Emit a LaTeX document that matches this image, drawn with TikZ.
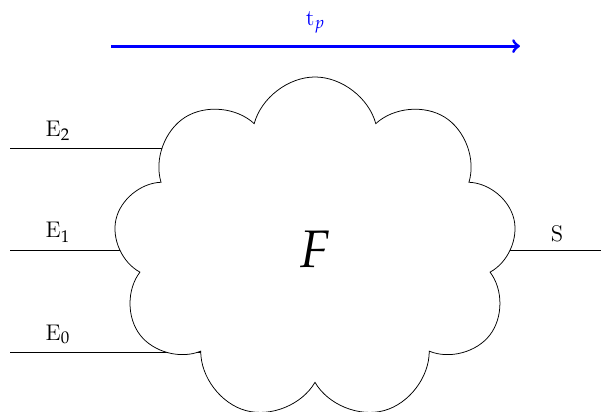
\documentclass[12pt,tikz,border=0pt]{standalone}
\usepackage{mathpazo}
\usetikzlibrary{shapes.symbols, backgrounds, calc}

\begin{document}
\begin{tikzpicture}
  \useasboundingbox (0,0) rectangle (11.2,7.66);

  % Process (cloud)
  \node[cloud, cloud puffs=9, draw, fill=white, minimum width=7.53cm, minimum height=6.41cm, font=\fontsize{28}{34}\selectfont] (F) at (5.87,3.02) {$F$};

  % Inputs and output
  \coordinate (E2) at (0.19,4.90);
  \coordinate (E1) at (0.19,3.00);
  \coordinate (E0) at (0.19,1.10);
  \coordinate (S) at (11.2,3.00);

  \begin{pgfonlayer}{background}
    \draw (E2) -- (E2 -| F.center);
    \draw (E1) -- (E1 -| F.center);
    \draw (E0) -- (E0 -| F.center);
    \draw (S -| F.center) -- (S);
  \end{pgfonlayer}

  \node[above] (lE2) at (1.08,4.90) {E$_2$};
  \node[above] (lE1) at (1.08,3.00) {E$_1$};
  \node[above] (lE0) at (1.08,1.10) {E$_0$};
  \node[above] (lS) at (10.38,3.00) {S};

  % Time axis
  \coordinate (t0) at (2.07,6.80);
  \coordinate (t1) at (9.69,6.80);
  \draw[->, ultra thick, blue] (t0) -- (t1) node[midway, above=2pt, text=blue] (tp) {t$_p$};

\end{tikzpicture}
\end{document}
